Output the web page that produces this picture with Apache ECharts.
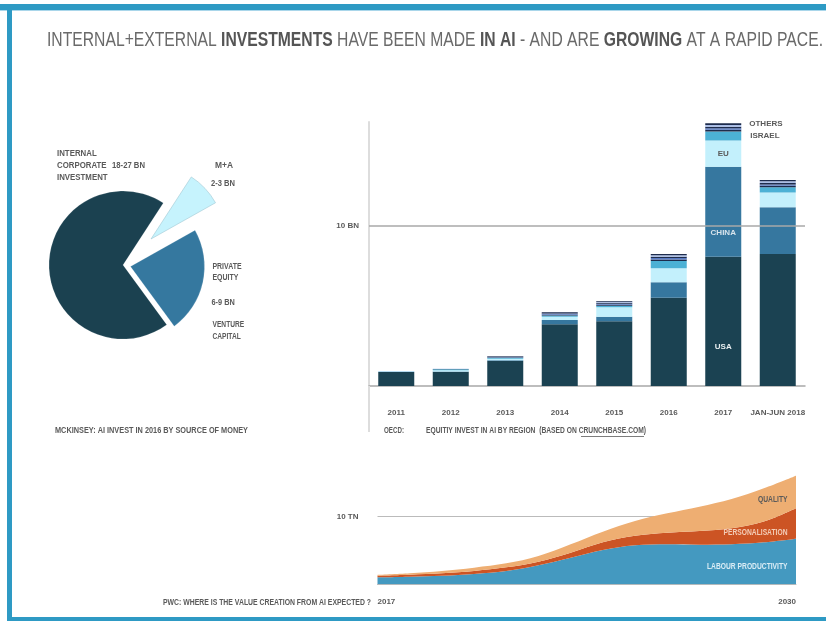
<!DOCTYPE html>
<html>
<head>
<meta charset="utf-8">
<script src="https://cdn.jsdelivr.net/npm/echarts@6/dist/echarts.min.js"></script>
<style>
html,body{margin:0;padding:0;background:#fff;}
#main{width:826px;height:621px;}
</style>
</head>
<body>
<div id="main"></div>
<script>
// ---------- DATA ----------
const pieNames = ['M+A', 'PRIVATE EQUITY / VENTURE CAPITAL', 'INTERNAL CORPORATE INVESTMENT'];
const pieValues = [2.5, 7.5, 22.5]; // BN, midpoints of 2-3, 6-9, 18-27

const barCategories = ['2011', '2012', '2013', '2014', '2015', '2016', '2017', 'JAN-JUN 2018'];
const usa    = [0.87, 0.875, 1.56, 3.86, 4.04, 5.52, 8.08, 8.25];
const china  = [0.00, 0.03, 0.05, 0.27, 0.29, 0.96, 5.63, 2.92];
const eu     = [0.03, 0.08, 0.10, 0.20, 0.59, 0.875, 1.63, 0.92];
const israel = [0.02, 0.06, 0.05, 0.08, 0.10, 0.46, 0.56, 0.33];
const othA   = [0.00, 0.01, 0.03, 0.05, 0.06, 0.09, 0.11, 0.09];
const othB   = [0.00, 0.00, 0.02, 0.04, 0.06, 0.09, 0.10, 0.09];
const othC   = [0.00, 0.01, 0.02, 0.04, 0.06, 0.09, 0.10, 0.09];
const othD   = [0.01, 0.01, 0.02, 0.04, 0.06, 0.09, 0.11, 0.10];
const othE   = [0.01, 0.00, 0.02, 0.04, 0.05, 0.08, 0.10, 0.09];

const areaYears = ['2017','2018','2019','2020','2021','2022','2023','2024','2025','2026','2027','2028','2029','2030'];
const labour          = [1.03, 1.13, 1.27, 1.53, 1.97, 2.81, 3.94, 5.07, 5.77, 5.92, 5.86, 5.92, 6.21, 6.75];
const personalisation = [0.24, 0.29, 0.35, 0.44, 0.54, 0.54, 0.74, 1.14, 1.42, 1.72, 2.03, 2.36, 3.06, 4.49];
const quality         = [0.11, 0.20, 0.35, 0.49, 0.59, 0.84, 1.24, 1.58, 2.18, 2.86, 3.59, 4.34, 4.93, 4.82];

// ---------- STYLE ----------
const FONT = '"Liberation Sans", Arial, sans-serif';
const GRAY = '#5a5a5a';
const FRAME = '#2e9ac4';
const pieColors = ['#c6f3fd', '#35789f', '#1b4150'];
const pieCenters = [[151, 239], [130.5, 266.5], [123, 265]];

const mctx = document.createElement('canvas').getContext('2d');
function textWidth(str, font) { mctx.font = font; return mctx.measureText(str).width; }

// condensed-looking text: scaled horizontally to the width seen in the reference
function fitText(text, x, y, target, opt) {
  opt = opt || {};
  const size = opt.size || 8.5;
  const font = (opt.weight || 'bold') + ' ' + size + 'px ' + FONT;
  const w = Math.max.apply(null, text.split('\n').map(l => textWidth(l, font)));
  return {
    type: 'text', x: x, y: y, z: 100, scaleX: target / w, silent: true,
    style: {text: text, fill: opt.color || GRAY, font: font, textAlign: opt.align || 'left',
            textVerticalAlign: 'middle', lineHeight: opt.lineHeight || 11.7}
  };
}

function titleText() {
  const segs = [
    ['n', 'INTERNAL+EXTERNAL '], ['b', 'INVESTMENTS'], ['n', ' HAVE BEEN MADE '], ['b', 'IN AI'],
    ['n', ' - AND ARE '], ['b', 'GROWING'], ['n', ' AT A RAPID PACE.']
  ];
  const size = 19.5;
  const fonts = {n: 'normal ' + size + 'px ' + FONT, b: 'bold ' + size + 'px ' + FONT};
  let w = 0;
  segs.forEach(s => { w += textWidth(s[1], fonts[s[0]]); });
  return {
    type: 'text', x: 47, y: 41, z: 100, scaleX: 776 / w, silent: true,
    style: {
      text: segs.map(s => '{' + s[0] + '|' + s[1] + '}').join(''),
      textVerticalAlign: 'middle',
      rich: {
        n: {fontFamily: FONT, fontSize: size, fontWeight: 'normal', fill: '#6a6a6a'},
        b: {fontFamily: FONT, fontSize: size, fontWeight: 'bold', fill: '#555555'}
      }
    }
  };
}

const chart = echarts.init(document.getElementById('main'), null, {renderer: 'canvas'});

const pieSeries = pieValues.map((v, i) => ({
  type: 'pie',
  center: pieCenters[i],
  radius: 74,
  startAngle: 57,
  clockwise: true,
  silent: true,
  label: {show: false},
  labelLine: {show: false},
  emphasis: {disabled: true},
  data: pieValues.map((val, j) => ({
    name: pieNames[j],
    value: val,
    itemStyle: j === i ? {color: pieColors[j], borderColor: j === 0 ? '#9fc7d3' : 'rgba(255,255,255,0.25)', borderWidth: 0.6}
                       : {color: 'rgba(0,0,0,0)'}
  }))
}));

const barLabelBase = {fontFamily: FONT, fontWeight: 'bold', fontSize: 8};
function withLabel(arr, idx, label) {
  return arr.map((v, i) => i === idx ? {value: v, label: Object.assign({show: true}, barLabelBase, label)} : v);
}

function barSeries(name, data, color, extra) {
  return Object.assign({
    type: 'bar', name: name, stack: 'region', xAxisIndex: 0, yAxisIndex: 0,
    barWidth: 36, data: data, itemStyle: {color: color}, silent: true,
    labelLayout: {hideOverlap: false}
  }, extra || {});
}

const option = {
  animation: false,
  backgroundColor: '#fff',
  grid: [
    {left: 369, right: 21, top: 122, bottom: 235},
    {left: 377.5, right: 30, top: 462.6, bottom: 36.7}
  ],
  xAxis: [
    {
      type: 'category', gridIndex: 0, data: barCategories,
      axisLine: {lineStyle: {color: '#a8a8a8', width: 1.5}},
      axisTick: {show: false},
      axisLabel: {margin: 23, color: GRAY, fontFamily: FONT, fontWeight: 'bold', fontSize: 8, interval: 0}
    },
    {
      type: 'category', gridIndex: 1, data: areaYears, boundaryGap: false,
      axisLine: {lineStyle: {color: '#bbbbbb', width: 1}},
      axisTick: {show: false},
      axisLabel: {
        margin: 13, color: GRAY, fontFamily: FONT, fontWeight: 'bold', fontSize: 8,
        interval: (i) => i === 0 || i === areaYears.length - 1,
        alignMinLabel: 'left', alignMaxLabel: 'right'
      }
    }
  ],
  yAxis: [
    {
      type: 'value', gridIndex: 0, min: 0, max: 16.5,
      axisLine: {show: true, lineStyle: {color: '#dddddd', width: 2}},
      axisTick: {show: false}, axisLabel: {show: false}, splitLine: {show: false}
    },
    {
      type: 'value', gridIndex: 1, min: 0, max: 18, interval: 10,
      axisLine: {show: false}, axisTick: {show: false},
      axisLabel: {margin: 19, color: GRAY, fontFamily: FONT, fontWeight: 'bold', fontSize: 8,
        formatter: (v) => v === 10 ? '10 TN' : ''},
      splitLine: {showMaxLine: false, lineStyle: {color: '#bbbbbb', width: 1}}
    }
  ],
  series: [
    ...pieSeries,
    barSeries('USA', withLabel(usa, 6, {position: ['50%', '70%'], align: 'center', verticalAlign: 'middle', color: '#e8eef0', formatter: 'USA'}), '#1b4252', {
      markLine: {
        silent: true, symbol: 'none',
        lineStyle: {color: '#a8a8a8', type: 'solid', width: 1.5},
        label: {position: 'start', distance: 10, formatter: '10 BN', color: GRAY, fontFamily: FONT, fontWeight: 'bold', fontSize: 8},
        data: [{yAxis: 10}]
      }
    }),
    barSeries('CHINA', withLabel(china, 6, {position: ['50%', '73%'], align: 'center', verticalAlign: 'middle', color: '#d8e4ec', formatter: 'CHINA'}), '#36779f'),
    barSeries('EU', withLabel(eu, 6, {position: 'inside', color: GRAY, formatter: 'EU'}), '#c3f0fc'),
    barSeries('ISRAEL', withLabel(israel, 6, {position: 'right', distance: 9, color: GRAY, formatter: 'ISRAEL'}), '#4cb1d5'),
    barSeries('OTHERS-1', othA, '#1e2c4c'),
    barSeries('OTHERS-2', othB, '#5a7cc5'),
    barSeries('OTHERS-3', othC, '#1e2c4c'),
    barSeries('OTHERS-4', othD, '#a9bde6'),
    barSeries('OTHERS', withLabel(othE, 6, {position: 'right', distance: 8, color: GRAY, formatter: 'OTHERS'}), '#1e2c4c'),
    {
      type: 'line', name: 'LABOUR PRODUCTIVITY', xAxisIndex: 1, yAxisIndex: 1, stack: 'value',
      data: labour, smooth: 0.35, symbol: 'none', silent: true,
      lineStyle: {width: 0}, areaStyle: {color: '#4499c0', opacity: 1}
    },
    {
      type: 'line', name: 'PERSONALISATION', xAxisIndex: 1, yAxisIndex: 1, stack: 'value',
      data: personalisation, smooth: 0.35, symbol: 'none', silent: true,
      lineStyle: {width: 0}, areaStyle: {color: '#cc5424', opacity: 1}
    },
    {
      type: 'line', name: 'QUALITY', xAxisIndex: 1, yAxisIndex: 1, stack: 'value',
      data: quality, smooth: 0.35, symbol: 'none', silent: true,
      lineStyle: {width: 0}, areaStyle: {color: '#eeae72', opacity: 1}
    }
  ],
  graphic: [
    {type: 'rect', z: 100, shape: {x: 0, y: 4, width: 826, height: 6}, style: {fill: FRAME}, silent: true},
    {type: 'rect', z: 100, shape: {x: 0, y: 10, width: 826, height: 1}, style: {fill: '#a9d6ea'}, silent: true},
    {type: 'rect', z: 100, shape: {x: 7, y: 4, width: 5, height: 617}, style: {fill: FRAME}, silent: true},
    {type: 'rect', z: 100, shape: {x: 7, y: 617, width: 819, height: 4}, style: {fill: FRAME}, silent: true},
    {type: 'line', z: 100, shape: {x1: 369, y1: 386, x2: 369, y2: 432}, style: {stroke: '#dddddd', lineWidth: 2}, silent: true},
    titleText(),
    fitText('INTERNAL\nCORPORATE\nINVESTMENT', 57, 165.7, 50.6),
    fitText('18-27 BN', 112, 165.7, 33),
    fitText('M+A', 215, 165.7, 18),
    fitText('2-3 BN', 211, 184, 24),
    fitText('PRIVATE\nEQUITY', 212.5, 272.2, 29),
    fitText('6-9 BN', 211.5, 302.3, 23.3),
    fitText('VENTURE\nCAPITAL', 212.5, 330.8, 31.7),
    fitText('MCKINSEY: AI INVEST IN 2016 BY SOURCE OF MONEY', 55, 431, 193),
    fitText('OECD:', 384, 431, 20),
    fitText('EQUITIY INVEST IN AI BY REGION  (BASED ON CRUNCHBASE.COM)', 426, 431, 220),
    {type: 'line', z: 100, shape: {x1: 581, y1: 436.5, x2: 644, y2: 436.5}, style: {stroke: GRAY, lineWidth: 0.8}, silent: true},
    fitText('PWC: WHERE IS THE VALUE CREATION FROM AI EXPECTED ?', 163, 602.5, 208),
    fitText('QUALITY', 787.5, 500, 29.5, {align: 'right'}),
    fitText('PERSONALISATION', 787.5, 532.7, 64, {align: 'right', color: '#f3cdb8'}),
    fitText('LABOUR PRODUCTIVITY', 787.5, 566.7, 80.5, {align: 'right', color: '#d9ecf5'})
  ]
};
chart.setOption(option);
</script>
</body>
</html>
